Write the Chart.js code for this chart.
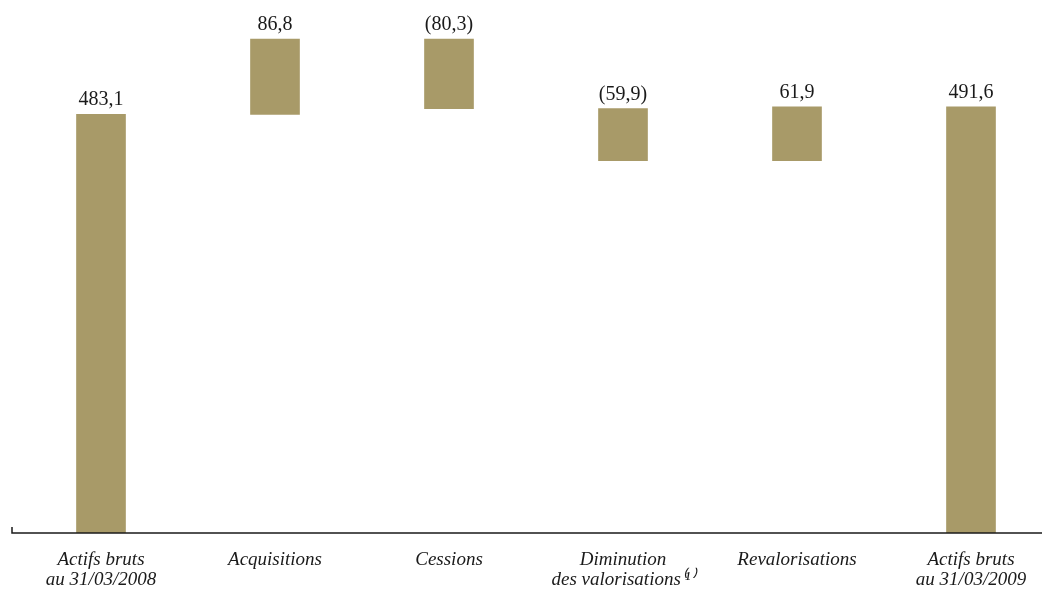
<!DOCTYPE html>
<html>
<head>
<meta charset="utf-8">
<script src="https://cdn.jsdelivr.net/npm/chart.js@4"></script>
<style>
  html, body { margin: 0; padding: 0; background: #fff; overflow: hidden; }
  #wrap { width: 1058px; height: 589px; }
</style>
</head>
<body>
<div id="wrap"><canvas id="chart" width="1058" height="589"></canvas></div>
<script>
var categories = [
    ["Actifs bruts", "au 31/03/2008"],
    "Acquisitions",
    "Cessions",
    ["Diminution", "des valorisations\u207D\u00B9\u207E"],
    "Revalorisations",
    ["Actifs bruts", "au 31/03/2009"]
];
var values = [483.1, 86.8, -80.3, -59.9, 61.9, 491.6];
var isTotal = [true, false, false, false, false, true];

// floating ranges for the waterfall
var ranges = [], run = 0;
for (var i = 0; i < values.length; i++) {
    if (isTotal[i]) {
        ranges.push([0, values[i]]);
        run = values[i];
    } else {
        ranges.push([run, run + values[i]]);
        run = run + values[i];
    }
}

function fmt(v) {
    var s = Math.abs(v).toFixed(1).replace(".", ",");
    return v < 0 ? "(" + s + ")" : s;
}

var valueLabels = {
    id: "valueLabels",
    afterDatasetsDraw: function(chart) {
        var ctx = chart.ctx;
        var meta = chart.getDatasetMeta(0);
        ctx.save();
        ctx.fillStyle = "#1a1a1a";
        ctx.font = "20px 'Liberation Serif', serif";
        ctx.textAlign = "center";
        ctx.textBaseline = "alphabetic";
        meta.data.forEach(function(bar, i) {
            var top = Math.min(bar.y, bar.base);
            ctx.fillText(fmt(values[i]), bar.x, top - 9);
        });
        ctx.restore();
    }
};

var axisLine = {
    id: "axisLine",
    afterDraw: function(chart) {
        var ctx = chart.ctx;
        var y = chart.chartArea.bottom;
        ctx.save();
        ctx.strokeStyle = "#1a1a1a";
        ctx.lineWidth = 1.5;
        ctx.beginPath();
        ctx.moveTo(12, y - 6);
        ctx.lineTo(12, y);
        ctx.lineTo(1042, y);
        ctx.stroke();
        ctx.restore();
    }
};

new Chart(document.getElementById("chart"), {
    type: "bar",
    data: {
        labels: categories,
        datasets: [{
            data: ranges,
            backgroundColor: "#a89a68",
            borderWidth: 0,
            barThickness: 49
        }]
    },
    options: {
        responsive: false,
        animation: false,
        layout: { padding: { top: 13, left: 14, right: 0, bottom: 0 } },
        plugins: {
            legend: { display: false },
            tooltip: { enabled: false }
        },
        scales: {
            x: {
                grid: { display: false },
                border: { display: false },
                ticks: {
                    color: "#1a1a1a",
                    padding: 9,
                    maxRotation: 0,
                    autoSkip: false,
                    font: { family: "'Liberation Serif', serif", style: "italic", size: 19, lineHeight: 1.05 }
                },
                afterFit: function(scale) { scale.height = 56; }
            },
            y: {
                display: false,
                min: 0,
                max: 600
            }
        }
    },
    plugins: [valueLabels, axisLine]
});
</script>
</body>
</html>
